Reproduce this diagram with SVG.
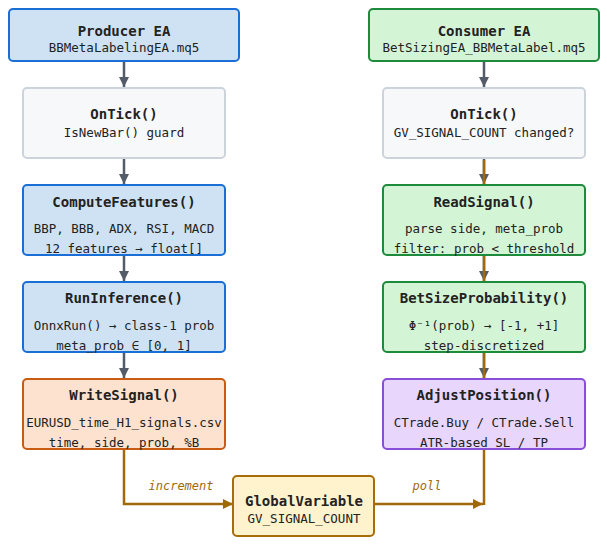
<svg xmlns="http://www.w3.org/2000/svg" width="607" height="545" viewBox="0 0 607 545">
<defs>
<marker id="ag" viewBox="0 0 10 10" refX="10" refY="5" markerWidth="10" markerHeight="10" markerUnits="userSpaceOnUse" orient="auto"><path d="M0,0 L10,5 L0,10 z" fill="#535c68"/></marker>
<marker id="ab" viewBox="0 0 10 10" refX="10" refY="5" markerWidth="10" markerHeight="10" markerUnits="userSpaceOnUse" orient="auto"><path d="M0,0 L10,5 L0,10 z" fill="#a06a0a"/></marker>
</defs>
<style>
text{font-family:"DejaVu Sans Mono","Liberation Mono",monospace;fill:#222;text-anchor:middle}
.t{font-size:14px;font-weight:bold}
.s{font-size:12.5px}
.l{font-size:12px;font-style:italic;fill:#a06a0a}
.box{stroke-width:2}
.blue{fill:#cfe2f3;stroke:#1a6fd6}
.green{fill:#d4f4d6;stroke:#1e8a3c}
.gray{fill:#f7f8fa;stroke:#cdd3da}
.orange{fill:#fde3cf;stroke:#c95b12}
.purple{fill:#e8d6fd;stroke:#8a4fd8}
.yellow{fill:#fef3cd;stroke:#a86d0b}
.cg{stroke:#535c68;stroke-width:2.5;fill:none}
.cb{stroke:#a06a0a;stroke-width:2.5;fill:none}
</style>
<g id="connectors">
<line class="cg" x1="124" y1="62" x2="124" y2="87" marker-end="url(#ag)"/>
<line class="cg" x1="124" y1="159" x2="124" y2="184" marker-end="url(#ag)"/>
<line class="cg" x1="124" y1="256" x2="124" y2="281" marker-end="url(#ag)"/>
<line class="cg" x1="124" y1="353" x2="124" y2="378" marker-end="url(#ag)"/>
<line class="cg" x1="484" y1="62" x2="484" y2="87" marker-end="url(#ag)"/>
<line class="cg" x1="484" y1="159" x2="484" y2="184" marker-end="url(#ag)"/>
<line class="cg" x1="484" y1="256" x2="484" y2="281" marker-end="url(#ag)"/>
<line class="cg" x1="484" y1="353" x2="484" y2="378" marker-end="url(#ag)"/>
<line class="cb" x1="484" y1="160" x2="484" y2="505"/>
<path class="cb" d="M124,450 V504 H233" marker-end="url(#ab)"/>
<line class="cb" x1="375" y1="504" x2="483" y2="504" marker-end="url(#ab)"/>
<text class="l" x="181" y="490">increment</text>
<text class="l" x="427" y="490">poll</text>
</g>
<g id="producer"><rect class="box blue" x="9" y="9" width="230" height="52" rx="4"/><text class="t" x="124" y="36">Producer EA</text><text class="s" x="124" y="52">BBMetaLabelingEA.mq5</text></g>
<g id="consumer"><rect class="box green" x="369" y="9" width="230" height="52" rx="4"/><text class="t" x="484" y="36">Consumer EA</text><text class="s" x="484" y="52">BetSizingEA_BBMetaLabel.mq5</text></g>
<g id="ontick-left"><rect class="box gray" x="23" y="88" width="202" height="70" rx="4"/><text class="t" x="124" y="119">OnTick()</text><text class="s" x="124" y="137">IsNewBar() guard</text></g>
<g id="ontick-right"><rect class="box gray" x="383" y="88" width="202" height="70" rx="4"/><text class="t" x="484" y="119">OnTick()</text><text class="s" x="484" y="137">GV_SIGNAL_COUNT changed?</text></g>
<g id="computefeatures"><rect class="box blue" x="23" y="185" width="202" height="70" rx="4"/><text class="t" x="124" y="207">ComputeFeatures()</text><text class="s" x="124" y="233">BBP, BBB, ADX, RSI, MACD</text><text class="s" x="124" y="253">12 features → float[]</text></g>
<g id="readsignal"><rect class="box green" x="383" y="185" width="202" height="70" rx="4"/><text class="t" x="484" y="207">ReadSignal()</text><text class="s" x="484" y="233">parse side, meta_prob</text><text class="s" x="484" y="253">filter: prob &lt; threshold</text></g>
<g id="runinference"><rect class="box blue" x="23" y="282" width="202" height="70" rx="4"/><text class="t" x="124" y="303">RunInference()</text><text class="s" x="124" y="330">OnnxRun() → class-1 prob</text><text class="s" x="124" y="350">meta_prob ∈ [0, 1]</text></g>
<g id="betsize"><rect class="box green" x="383" y="282" width="202" height="70" rx="4"/><text class="t" x="484" y="303">BetSizeProbability()</text><text class="s" x="484" y="330">Φ⁻¹(prob) → [-1, +1]</text><text class="s" x="484" y="350">step-discretized</text></g>
<g id="writesignal"><rect class="box orange" x="23" y="379" width="202" height="70" rx="4"/><text class="t" x="124" y="400">WriteSignal()</text><text class="s" x="124" y="427">EURUSD_time_H1_signals.csv</text><text class="s" x="124" y="447">time, side, prob, %B</text></g>
<g id="adjustposition"><rect class="box purple" x="383" y="379" width="202" height="70" rx="4"/><text class="t" x="484" y="400">AdjustPosition()</text><text class="s" x="484" y="427">CTrade.Buy / CTrade.Sell</text><text class="s" x="484" y="447">ATR-based SL / TP</text></g>
<g id="globalvariable"><rect class="box yellow" x="233" y="476" width="141" height="60" rx="4"/><text class="t" x="304" y="506">GlobalVariable</text><text class="s" x="304" y="523">GV_SIGNAL_COUNT</text></g>
</svg>
